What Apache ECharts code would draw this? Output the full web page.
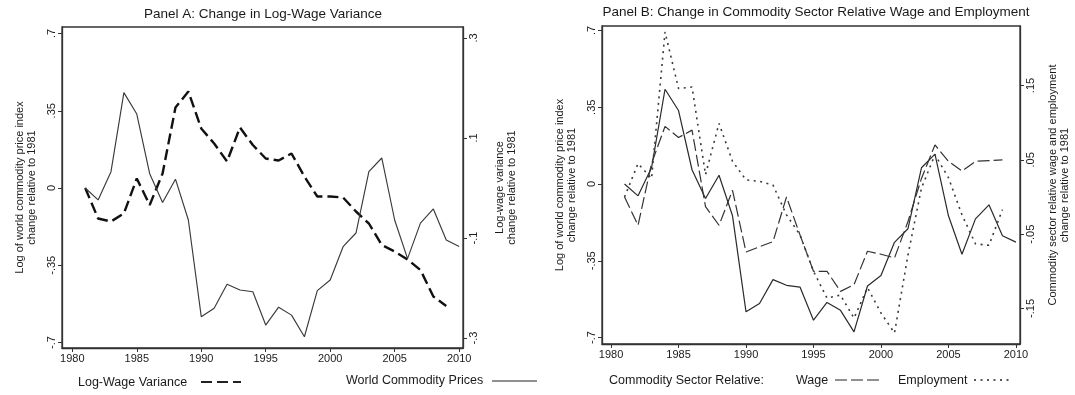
<!DOCTYPE html>
<html><head><meta charset="utf-8">
<script src="https://cdn.jsdelivr.net/npm/echarts@6/dist/echarts.min.js"></script>
<style>html,body{margin:0;padding:0;background:#fff}#c{width:1075px;height:395px}</style>
</head><body><div id="c"></div>
<script>
// ---- data ----
const years = [1981,1982,1983,1984,1985,1986,1987,1988,1989,1990,1991,1992,1993,1994,1995,1996,1997,1998,1999,2000,2001,2002,2003,2004,2005,2006,2007,2008,2009,2010];
// World commodity prices (log index, change relative to 1981) - left axes
const commodity = [0,-0.054,0.074,0.432,0.335,0.065,-0.066,0.04,-0.145,-0.583,-0.545,-0.436,-0.462,-0.47,-0.621,-0.54,-0.576,-0.674,-0.465,-0.417,-0.266,-0.204,0.074,0.136,-0.145,-0.32,-0.159,-0.095,-0.236,-0.265];
// Log-wage variance change relative to 1981 (1981-2009) - Panel A right axis
const logWageVar = [0,-0.061,-0.067,-0.051,0.019,-0.034,0.029,0.161,0.193,0.119,0.089,0.053,0.121,0.086,0.059,0.055,0.069,0.023,-0.017,-0.017,-0.019,-0.047,-0.071,-0.114,-0.127,-0.143,-0.164,-0.217,-0.236];
// Commodity sector relative wage (1981-2009) - Panel B right axis
const relWage = [0,-0.038,0.045,0.095,0.08,0.09,-0.013,-0.038,0.009,-0.074,-0.067,-0.06,0.0,-0.051,-0.1,-0.1,-0.127,-0.118,-0.073,-0.077,-0.082,-0.033,0.025,0.07,0.048,0.035,0.048,0.049,0.05];
// Commodity sector relative employment (1981-2009) - Panel B right axis
const relEmp = [0,0.045,0.025,0.222,0.146,0.148,0.03,0.099,0.048,0.023,0.021,0.016,-0.024,-0.051,-0.1,-0.136,-0.132,-0.163,-0.122,-0.156,-0.183,-0.078,0.012,0.057,0.026,-0.024,-0.063,-0.065,-0.017];
// tick labels
const xTicks = [1980,1985,1990,1995,2000,2005,2010];
const leftTicks = [-0.7,-0.35,0,0.35,0.7];
const rightTicksA = [-0.3,-0.1,0.1,0.3];
const rightTicksB = [-0.15,-0.05,0.05,0.15];
// texts
const titleA = 'Panel A: Change in Log-Wage Variance';
const titleB = 'Panel B: Change in Commodity Sector Relative Wage and Employment';
const leftName = 'Log of world commodity price index\nchange relative to 1981';
const rightNameA = 'Log-wage variance\nchange relative to 1981';
const rightNameB = 'Commodity sector relative wage and employment\nchange relative to 1981';

// ---- chart ----
const FONT = '"Liberation Sans", Arial, Helvetica, sans-serif';
const INK = '#1a1a1a';
const AX = '#333';
const pairs = (xs, ys) => ys.map((v, i) => [xs[i], v]);
const fmtDec = v => String(Math.round(v * 1000) / 1000).replace(/^(-?)0\./, '$1.');

function xAx(gridIndex, min, max) {
  return {
    type: 'value', gridIndex, min, max,
    axisLine: {show: true, onZero: false, lineStyle: {color: AX, width: 1.3}},
    axisTick: {show: true, customValues: xTicks, length: 4, lineStyle: {color: AX}},
    axisLabel: {customValues: xTicks, formatter: v => String(v), color: INK, fontSize: 11, fontFamily: FONT, margin: 5},
    splitLine: {show: false}
  };
}
function yAx(gridIndex, position, min, max, ticks, name, nameGap) {
  return {
    type: 'value', gridIndex, position, min, max,
    axisLine: {show: true, onZero: false, lineStyle: {color: AX, width: 1.3}},
    axisTick: {show: true, customValues: ticks, length: 4, lineStyle: {color: AX}},
    axisLabel: {customValues: ticks, formatter: fmtDec, rotate: 90, color: INK, fontSize: 11, fontFamily: FONT, margin: 5},
    splitLine: {show: false},
    name, nameLocation: 'middle', nameRotate: 90, nameGap,
    nameTextStyle: {color: INK, fontSize: 11, fontFamily: FONT, lineHeight: 12}
  };
}
const txt = (x, y, text, size, align) => ({
  type: 'text', x, y,
  style: {text, fill: INK, font: size + 'px ' + FONT, align: align || 'left', verticalAlign: 'middle'}
});
const seg = (x1, x2, y, width, dash) => ({
  type: 'line', shape: {x1, y1: y, x2, y2: y},
  style: {stroke: '#222', lineWidth: width, lineDash: dash || null}
});

const chart = echarts.init(document.getElementById('c'), null, {renderer: 'canvas'});
chart.setOption({
  animation: false,
  backgroundColor: '#fff',
  grid: [
    {left: 62, right: 1075 - 463, top: 27, bottom: 395 - 348, show: true, borderColor: AX, borderWidth: 1.3, backgroundColor: 'transparent'},
    {left: 602, right: 1075 - 1020, top: 26, bottom: 395 - 344, show: true, borderColor: AX, borderWidth: 1.3, backgroundColor: 'transparent'}
  ],
  xAxis: [xAx(0, 1979.2, 2010.3), xAx(1, 1979.33, 2010.3)],
  yAxis: [
    yAx(0, 'left', -0.725, 0.7295, leftTicks, leftName, 24),
    yAx(0, 'right', -0.32, 0.322, rightTicksA, rightNameA, 31),
    yAx(1, 'left', -0.7296, 0.7205, leftTicks, leftName, 24),
    yAx(1, 'right', -0.1978, 0.2301, rightTicksB, rightNameB, 27)
  ],
  series: [
    {name: 'Log-Wage Variance', type: 'line', xAxisIndex: 0, yAxisIndex: 1, data: pairs(years, logWageVar), symbol: 'none',
     lineStyle: {color: '#111', width: 2.4, type: [11, 5]}},
    {name: 'World Commodity Prices', type: 'line', xAxisIndex: 0, yAxisIndex: 0, data: pairs(years, commodity), symbol: 'none',
     lineStyle: {color: '#3a3a3a', width: 1.15}},
    {name: 'Commodity Prices B', type: 'line', xAxisIndex: 1, yAxisIndex: 2, data: pairs(years, commodity), symbol: 'none',
     lineStyle: {color: '#2a2a2a', width: 1.2}},
    {name: 'Wage', type: 'line', xAxisIndex: 1, yAxisIndex: 3, data: pairs(years, relWage), symbol: 'none',
     lineStyle: {color: '#333', width: 1.2, type: [12, 4]}},
    {name: 'Employment', type: 'line', xAxisIndex: 1, yAxisIndex: 3, data: pairs(years, relEmp), symbol: 'none',
     lineStyle: {color: '#3a3a3a', width: 1.6, type: [2, 4.5]}}
  ],
  graphic: [
    txt(263, 14, titleA, 13.5, 'center'),
    txt(816, 12, titleB, 13.5, 'center'),
    txt(78, 383, 'Log-Wage Variance', 12.5),
    seg(201, 241, 382, 2.2, [11, 5]),
    txt(346, 381, 'World Commodity Prices', 12.5),
    seg(492, 537, 381, 1.1),
    txt(609, 381, 'Commodity Sector Relative:', 12.5),
    txt(796, 381, 'Wage', 12.5),
    seg(835, 879, 380, 1.1, [12, 4]),
    txt(898, 381, 'Employment', 12.5),
    seg(974, 1013, 380, 1.6, [2, 4.5])
  ]
});
</script></body></html>
